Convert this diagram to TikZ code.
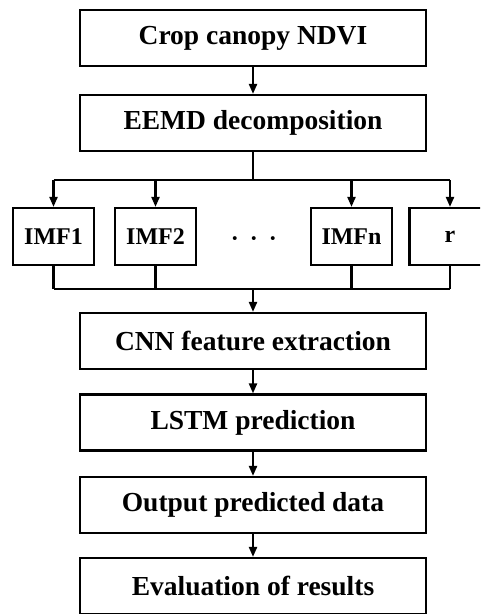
\documentclass[tikz,border=0pt]{standalone}
\usepackage{fontspec}
\setmainfont{Liberation Serif}
\usetikzlibrary{arrows.meta}
\begin{document}
\begin{tikzpicture}[x=1pt,y=-1pt,
 box/.style={draw, line width=2.2pt, minimum width=346pt, minimum height=56pt, inner sep=0pt, font=\fontsize{27.5}{30}\selectfont\bfseries},
 sbox/.style={draw, line width=2.2pt, minimum width=81pt, minimum height=57pt, inner sep=0pt, font=\fontsize{24}{26}\selectfont\bfseries},
 ln/.style={line width=2.2pt},
 arr/.style={line width=2.2pt, -{Triangle[length=10pt,width=8pt]}}]
\useasboundingbox (0,0) rectangle (480,614);
\clip (0,0) rectangle (480,614);
\node[box] (a) at (253,38) {Crop canopy NDVI};
\node[box] (b) at (253,123) {EEMD decomposition};
\node[sbox] (i1) at (53.5,236.5) {IMF1};
\node[sbox] (i2) at (155.5,236.5) {IMF2};
\node[sbox] (iN) at (351.5,236.5) {IMFn};
\node[sbox] (r) at (450,236.5) {r};
\node[font=\fontsize{24}{26}\selectfont\bfseries] (dots) at (254,242) {·\hspace{11pt}·\hspace{11pt}·};
\coordinate (t) at (253,180);
\coordinate (u) at (253,289);
\node[box] (c) at (253,341) {CNN feature extraction};
\node[box] (l) at (253,422.5) {LSTM prediction};
\node[box] (o) at (253,505) {Output predicted data};
\node[box] (e) at (253,586) {Evaluation of results};
\draw[arr] (a) -- (b);
\draw[ln] (b) -- (t);
\draw[ln] (i1.north |- t) -- (r.north |- t);
\draw[ln] (i1.south |- u) -- (r.south |- u);
\foreach \n in {i1,i2,iN,r}{
  \draw[arr] (\n.north |- t) -- (\n);
  \draw[ln] (\n) -- (\n.south |- u);
}
\draw[arr] (u) -- (c);
\draw[arr] (c) -- (l);
\draw[arr] (l) -- (o);
\draw[arr] (o) -- (e);
\end{tikzpicture}
\end{document}
